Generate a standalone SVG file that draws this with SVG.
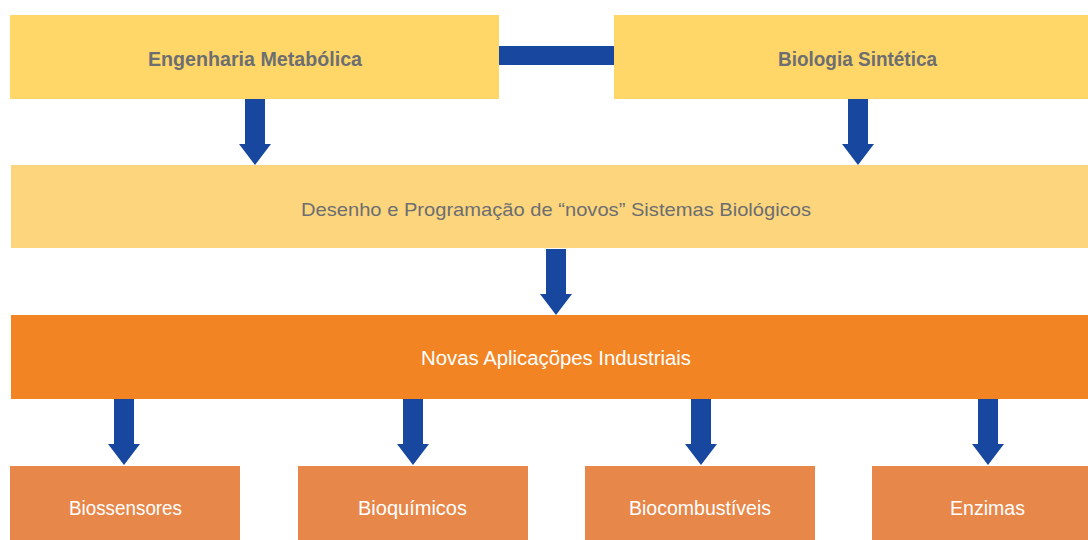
<svg xmlns="http://www.w3.org/2000/svg" xmlns:xlink="http://www.w3.org/1999/xlink" width="1088" height="540" viewBox="0 0 1088 540">
<style>
.src{fill:#FED768}
.mid{fill:#FCD57C}
.ind{fill:#F28424}
.app{fill:#E8874A}
.lbl{font-family:"Liberation Sans","DejaVu Sans",sans-serif;text-anchor:middle}
.dark{fill:#6D6E71}
.bold{font-weight:bold;font-size:21px}
.reg{font-size:19px}
.white{fill:#FFFFFF;font-size:19.5px}
.conn{fill:#17479E}
</style>
<defs>
<polygon id="arrow" points="-10,-66 10,-66 10,-21 16,-21 0,0 -16,-21 -10,-21"/>
</defs>
<rect width="1088" height="540" fill="#FFFFFF"/>
<g id="connectors" class="conn">
<rect x="499" y="46" width="115" height="19"/>
<use xlink:href="#arrow" x="255" y="165"/>
<use xlink:href="#arrow" x="858" y="165"/>
<use xlink:href="#arrow" x="556" y="315"/>
<use xlink:href="#arrow" x="124" y="465"/>
<use xlink:href="#arrow" x="413" y="465"/>
<use xlink:href="#arrow" x="701" y="465"/>
<use xlink:href="#arrow" x="988" y="465"/>
</g>
<g id="engenharia">
<rect class="src" x="10" y="15" width="489" height="84"/>
<text class="lbl dark bold" x="255" y="66" textLength="214" lengthAdjust="spacingAndGlyphs">Engenharia Metabólica</text>
</g>
<g id="biologia">
<rect class="src" x="614" y="15" width="474" height="84"/>
<text class="lbl dark bold" x="857.5" y="66" textLength="159" lengthAdjust="spacingAndGlyphs">Biologia Sintética</text>
</g>
<g id="desenho">
<rect class="mid" x="11" y="165" width="1077" height="83"/>
<text class="lbl dark reg" x="556" y="216" textLength="510" lengthAdjust="spacingAndGlyphs">Desenho e Programação de “novos” Sistemas Biológicos</text>
</g>
<g id="novas">
<rect class="ind" x="11" y="315" width="1077" height="84"/>
<text class="lbl white" x="556" y="365" textLength="270" lengthAdjust="spacingAndGlyphs">Novas Aplicaçõpes Industriais</text>
</g>
<g id="biossensores">
<rect class="app" x="10" y="466" width="230" height="74"/>
<text class="lbl white" x="125.5" y="515" textLength="113" lengthAdjust="spacingAndGlyphs">Biossensores</text>
</g>
<g id="bioquimicos">
<rect class="app" x="298" y="466" width="230" height="74"/>
<text class="lbl white" x="412.5" y="515" textLength="109" lengthAdjust="spacingAndGlyphs">Bioquímicos</text>
</g>
<g id="biocombustiveis">
<rect class="app" x="585" y="466" width="230" height="74"/>
<text class="lbl white" x="700" y="515" textLength="142" lengthAdjust="spacingAndGlyphs">Biocombustíveis</text>
</g>
<g id="enzimas">
<rect class="app" x="872" y="466" width="216" height="74"/>
<text class="lbl white" x="987.5" y="515" textLength="75" lengthAdjust="spacingAndGlyphs">Enzimas</text>
</g>
</svg>
